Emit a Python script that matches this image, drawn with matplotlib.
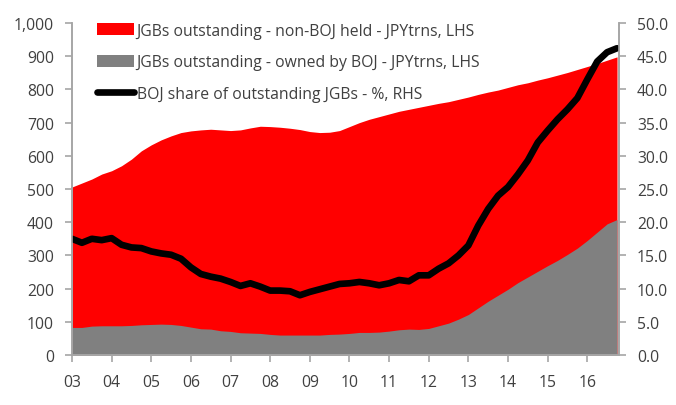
import matplotlib
matplotlib.use("Agg")
import matplotlib.pyplot as plt
from matplotlib.patches import Patch
from matplotlib.lines import Line2D
from matplotlib.ticker import FuncFormatter, MultipleLocator

# quarterly points
dates = [2003 + q * 0.25 for q in range(56)]

total_jgbs = [506, 518, 530, 545, 555, 570, 590, 615, 633, 648, 660, 670,
              675, 678, 680, 678, 676, 678, 684, 689, 688, 686, 683, 679,
              673, 670, 671, 676, 688, 700, 710, 718, 726, 734, 740, 746,
              752, 758, 763, 770, 777, 785, 792, 798, 806, 814, 820, 828,
              835, 843, 851, 860, 869, 878, 888, 898]

boj_held = [83, 83, 87, 88, 88, 88, 89, 91, 92, 93, 92, 89,
            84, 79, 78, 73, 71, 67, 66, 65, 62, 60, 60, 60,
            60, 60, 62, 63, 65, 68, 68, 69, 72, 76, 78, 77,
            80, 88, 96, 108, 122, 142, 162, 180, 198, 218, 235, 252,
            269, 285, 303, 322, 345, 370, 395, 408]

boj_share = [17.5, 16.9, 17.5, 17.3, 17.6, 16.6, 16.2, 16.1, 15.6, 15.3, 15.1, 14.5,
             13.2, 12.2, 11.8, 11.5, 11.0, 10.4, 10.8, 10.3, 9.7, 9.7, 9.6, 9.0,
             9.5, 9.9, 10.3, 10.7, 10.8, 11.0, 10.8, 10.5, 10.8, 11.3, 11.1, 12.0,
             12.0, 13.0, 13.8, 15.0, 16.5, 19.5, 22.0, 24.0, 25.3, 27.2, 29.3, 32.0,
             33.8, 35.5, 37.0, 38.7, 41.5, 44.2, 45.6, 46.2]

year_ticks = list(range(2003, 2017))
year_labels = ["%02d" % (y % 100) for y in year_ticks]

labels = ["JGBs outstanding - non-BOJ held - JPYtrns, LHS",
          "JGBs outstanding - owned by BOJ - JPYtrns, LHS",
          "BOJ share of outstanding JGBs - %, RHS"]

plt.rcParams['font.family'] = ['Open Sans', 'DejaVu Sans']
text_col = '#404040'
axis_col = '#a6a6a6'
fsize = 11.3

fig = plt.figure(figsize=(6.76, 4.06), dpi=100)
ax = fig.add_axes([72 / 676, 1 - 356 / 406, 547 / 676, 332 / 406])

ax.fill_between(dates, 0, total_jgbs, color='#ff0000', lw=0)
ax.fill_between(dates, 0, boj_held, color='#808080', lw=0)
ax.set_xlim(2003, 2016.8)
ax.set_ylim(0, 1000)
ax.yaxis.set_major_locator(MultipleLocator(100))
ax.yaxis.set_major_formatter(FuncFormatter(lambda v, p: "{:,.0f}".format(v)))
ax.set_xticks(year_ticks)
ax.set_xticklabels(year_labels)

ax2 = ax.twinx()
ax2.plot(dates, boj_share, color='black', lw=4.8, solid_capstyle='round',
         solid_joinstyle='round')
ax2.set_ylim(0, 50)
ax2.yaxis.set_major_locator(MultipleLocator(5))
ax2.yaxis.set_major_formatter(FuncFormatter(lambda v, p: "%.1f" % v))

for a in (ax, ax2):
    for s in a.spines.values():
        s.set_color(axis_col)
        s.set_linewidth(1.2)
    a.spines['top'].set_visible(False)
    a.tick_params(colors=axis_col, labelcolor=text_col, labelsize=fsize, length=5, width=1.2)
ax.tick_params(axis='y', pad=8)
ax2.tick_params(axis='y', pad=8)
ax.tick_params(axis='x', pad=9)

handles = [Patch(facecolor='#ff0000', edgecolor='none'),
           Patch(facecolor='#808080', edgecolor='none'),
           Line2D([0], [0], color='black', lw=4.8, solid_capstyle='round')]
leg = ax2.legend(handles, labels, loc='upper left', bbox_to_anchor=(0.035, 1.02),
                 frameon=False, fontsize=fsize, labelspacing=1.0, handlelength=2.35,
                 handleheight=0.8, handletextpad=0.15, borderaxespad=0)
for t in leg.get_texts():
    t.set_color(text_col)

fig.savefig('out.png', dpi=100)
